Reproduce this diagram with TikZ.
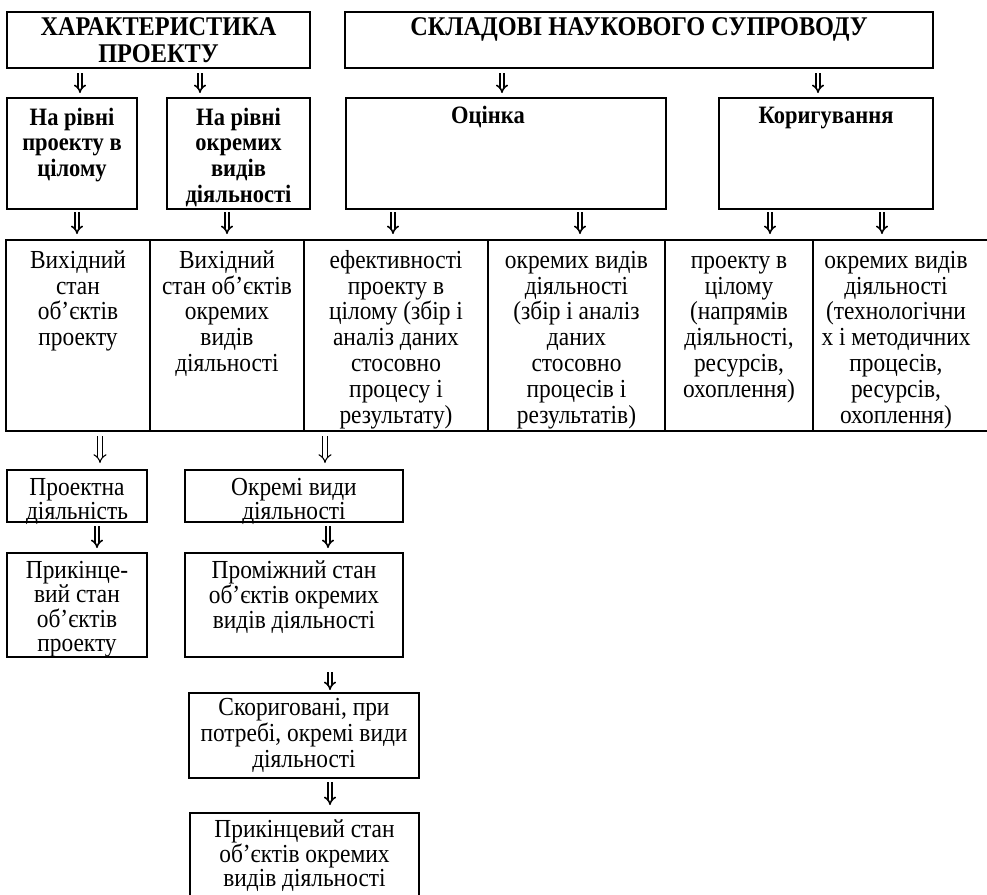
\documentclass[tikz,border=0pt]{standalone}
\usepackage{fontspec}
\setmainfont{Liberation Serif}[FakeStretch=0.9]
\usetikzlibrary{arrows.meta}
\newcommand\fst{\rule{0pt}{0.9em}}
\begin{document}
\begin{tikzpicture}[x=1pt,y=-1pt,
  box/.style={draw, line width=2pt, inner sep=0pt, outer sep=0pt, anchor=north west},
  cell/.style={draw, line width=1.8pt, inner sep=0pt, outer sep=0pt, anchor=north west},
  txt/.style={anchor=north, align=center, inner sep=0pt},
  ttl/.style={txt, font=\fontsize{27}{27}\selectfont\bfseries},
  hd/.style={txt, font=\fontsize{25}{25.6}\selectfont\bfseries},
  rg/.style={txt, font=\fontsize{26}{#1}\selectfont},
  rg/.default={25},
  arrB/.style={double, line width=1.6pt, double distance=2.4pt, -{Implies}},
  arrT/.style={double, line width=1.1pt, double distance=3.4pt, -{Implies}}
]
\useasboundingbox (0,0) rectangle (987,894);
\clip (0,0) rectangle (987,894);

% top titles
\node[box, minimum width=303, minimum height=56] (t1) at (7,12) {};
\node[box, minimum width=588, minimum height=56] (t2) at (345,12) {};
\node[ttl] (t1x) at ([yshift=1.3]t1.north) {\fst ХАРАКТЕРИСТИКА\\ПРОЕКТУ};
\node[ttl] (t2x) at ([yshift=1.3]t2.north) {\fst СКЛАДОВІ НАУКОВОГО СУПРОВОДУ};

% second row
\node[box, minimum width=130, minimum height=111] (A) at (7,98) {};
\node[box, minimum width=143, minimum height=111] (B) at (167,98) {};
\node[box, minimum width=320, minimum height=111] (C) at (346,98) {};
\node[box, minimum width=214, minimum height=111] (D) at (719,98) {};
\node[hd] (Ax) at ([yshift=-4.5]A.north) {\fst На рівні\\проекту в\\цілому};
\node[hd] (Bx) at ([yshift=-4.5]B.north) {\fst На рівні\\окремих\\видів\\діяльності};
\node[hd] (Cx) at ([xshift=-18,yshift=-2.5]C.north) {\fst Оцінка};
\node[hd] (Dx) at ([yshift=-2.5]D.north) {\fst Коригування};

% table
\node[cell, minimum width=144, minimum height=191] (c1) at (6,240) {};
\node[cell, minimum width=154, minimum height=191] (c2) at (150,240) {};
\node[cell, minimum width=184, minimum height=191] (c3) at (304,240) {};
\node[cell, minimum width=177, minimum height=191] (c4) at (488,240) {};
\node[cell, minimum width=148, minimum height=191] (c5) at (665,240) {};
\node[cell, minimum width=190, minimum height=191] (c6) at (813,240) {};
\node[rg=25.8] (c1x) at ([yshift=-4.6]c1.north) {\fst Вихідний\\стан\\об’єктів\\проекту};
\node[rg=25.8] (c2x) at ([yshift=-4.6]c2.north) {\fst Вихідний\\стан об’єктів\\окремих\\видів\\діяльності};
\node[rg=25.8] (c3x) at ([yshift=-4.6]c3.north) {\fst ефективності\\проекту в\\цілому (збір і\\аналіз даних\\стосовно\\процесу і\\результату)};
\node[rg=25.8] (c4x) at ([yshift=-4.6]c4.north) {\fst окремих видів\\діяльності\\(збір і аналіз\\даних\\стосовно\\процесів і\\результатів)};
\node[rg=25.8] (c5x) at ([yshift=-4.6]c5.north) {\fst проекту в\\цілому\\(напрямів\\діяльності,\\ресурсів,\\охоплення)};
\node[rg=25.8] (c6x) at ([yshift=-4.6]896,240) {\fst окремих видів\\діяльності\\(технологічни\\х і методичних\\процесів,\\ресурсів,\\охоплення)};

% lower boxes
\node[box, minimum width=140, minimum height=52] (P1) at (7,470) {};
\node[box, minimum width=218, minimum height=52] (P2) at (185,470) {};
\node[box, minimum width=140, minimum height=104] (Q1) at (7,553) {};
\node[box, minimum width=218, minimum height=104] (Q2) at (185,553) {};
\node[box, minimum width=230, minimum height=85] (R) at (189,693) {};
\node[box, minimum width=229, minimum height=120] (S) at (190,813) {};
\node[rg=19.5] (P1x) at ([yshift=-2]P1.north) {\fst Проектна\\діяльність};
\node[rg=19.5] (P2x) at ([yshift=-2]P2.north) {\fst Окремі види\\діяльності};
\node[rg=24.5] (Q1x) at ([yshift=-1.6]Q1.north) {\fst Прикінце-\\вий стан\\об’єктів\\проекту};
\node[rg=25] (Q2x) at ([yshift=-1.6]Q2.north) {\fst Проміжний стан\\об’єктів окремих\\видів діяльності};
\node[rg=26] (Rx) at ([yshift=1.4]R.north) {\fst Скориговані, при\\потребі, окремі види\\діяльності};
\node[rg=24] (Sx) at ([yshift=-0.6]S.north) {\fst Прикінцевий стан\\об’єктів окремих\\видів діяльності};

% arrows row 1
\draw[arrB, shorten <=5pt, shorten >=5pt] (80,0 |- t1.south) -- (80,0 |- A.north);
\draw[arrB, shorten <=5pt, shorten >=5pt] (200,0 |- t1.south) -- (200,0 |- B.north);
\draw[arrB, shorten <=5pt, shorten >=5pt] (502,0 |- t2.south) -- (502,0 |- C.north);
\draw[arrB, shorten <=5pt, shorten >=5pt] (818,0 |- t2.south) -- (818,0 |- D.north);
% arrows row 2
\draw[arrB, shorten <=3pt, shorten >=6pt] (77,0 |- A.south) -- (77,0 |- c1.north);
\draw[arrB, shorten <=3pt, shorten >=6pt] (227,0 |- B.south) -- (227,0 |- c2.north);
\draw[arrB, shorten <=3pt, shorten >=6pt] (393,0 |- C.south) -- (393,0 |- c3.north);
\draw[arrB, shorten <=3pt, shorten >=6pt] (580,0 |- C.south) -- (580,0 |- c4.north);
\draw[arrB, shorten <=3pt, shorten >=6pt] (770,0 |- D.south) -- (770,0 |- c5.north);
\draw[arrB, shorten <=3pt, shorten >=6pt] (882,0 |- D.south) -- (882,0 |- c6.north);
% thin arrows below table
\draw[arrT, shorten <=5pt, shorten >=7pt] (100,0 |- c1.south) -- (100,0 |- P1.north);
\draw[arrT, shorten <=5pt, shorten >=7pt] (325,0 |- c3.south) -- (325,0 |- P2.north);
% lower arrows
\draw[arrB, shorten <=4pt, shorten >=5pt] (97,0 |- P1.south) -- (97,0 |- Q1.north);
\draw[arrB, shorten <=4pt, shorten >=5pt] (328,0 |- P2.south) -- (328,0 |- Q2.north);
\draw[arrB, shorten <=15pt, shorten >=3pt] (330,0 |- Q2.south) -- (330,0 |- R.north);
\draw[arrB, shorten <=4pt, shorten >=8pt] (330,0 |- R.south) -- (330,0 |- S.north);
\end{tikzpicture}
\end{document}
